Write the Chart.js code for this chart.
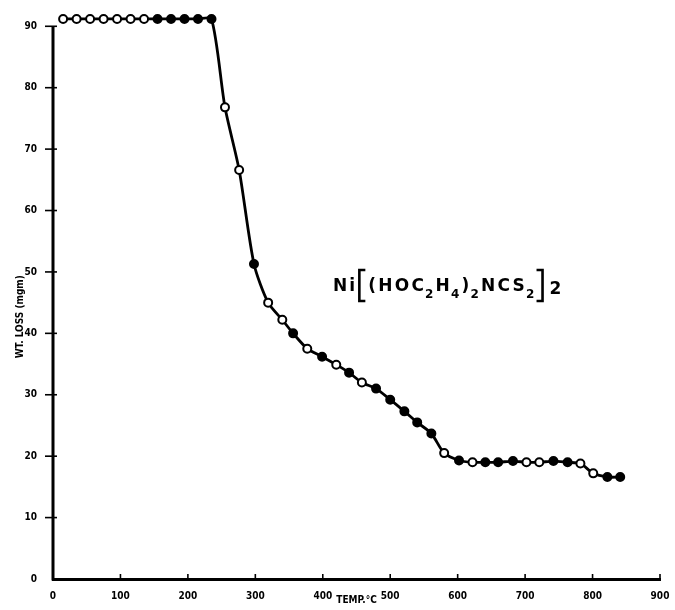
<!DOCTYPE html>
<html>
<head>
<meta charset="utf-8">
<script src="https://cdn.jsdelivr.net/npm/chart.js@4"></script>
<style>
  html, body { margin: 0; padding: 0; background: #fff; }
  #wrap { width: 675px; height: 610px; }
</style>
</head>
<body>
<div id="wrap"><canvas id="chart"></canvas></div>
<script>
// temperature (deg C) of each reading
const temps = [15, 35, 55, 75, 95, 115, 135, 155, 175, 195, 215, 235,
    255, 276, 298, 319, 340, 356, 377, 399, 420, 439, 458, 479, 500, 521, 540, 561,
    580, 602, 622, 641, 660, 682, 702, 721, 742, 763, 782, 801, 822, 841];
// weight (mgm)
const weights = [91.2, 91.2, 91.2, 91.2, 91.2, 91.2, 91.2, 91.2, 91.2, 91.2, 91.2, 91.2,
    76.8, 66.6, 51.3, 45.0, 42.2, 40.0, 37.5, 36.2, 34.9, 33.6, 32.0, 31.0, 29.2, 27.3, 25.5, 23.7,
    20.5, 19.3, 19.0, 19.0, 19.0, 19.2, 19.0, 19.0, 19.2, 19.0, 18.8, 17.2, 16.6, 16.6];
// which markers are printed solid
const solid = [0, 0, 0, 0, 0, 0, 0, 1, 1, 1, 1, 1,
    0, 0, 1, 0, 0, 1, 0, 1, 0, 1, 0, 1, 1, 1, 1, 1,
    0, 1, 0, 1, 1, 1, 0, 0, 1, 1, 0, 0, 1, 1];

const xTicks = [0, 100, 200, 300, 400, 500, 600, 700, 800, 900];
const yTicks = [0, 10, 20, 30, 40, 50, 60, 70, 80, 90];

const yTitle = 'WT. LOSS (mgm)';
const yTitleAt = 42.7;   // value the axis title is centred on
const formulaAt = { x: 415, y: 46.9 };

const labelFont = { family: 'DejaVu Sans Condensed', size: 10, weight: 'bold' };

// y axis line stops at the 90 tick, short tick marks, y title
const axisMarks = {
    id: 'axisMarks',
    afterDraw(chart) {
        const ctx = chart.ctx;
        const xs = chart.scales.x, ys = chart.scales.y;
        const x0 = xs.getPixelForValue(0), y0 = ys.getPixelForValue(0);
        const yTop = ys.getPixelForValue(yTicks[yTicks.length - 1]);
        ctx.save();
        ctx.strokeStyle = '#000';
        ctx.lineWidth = 3;
        ctx.beginPath();
        ctx.moveTo(x0, y0 + 1.5);
        ctx.lineTo(x0, yTop);
        ctx.stroke();
        ctx.lineWidth = 1.6;
        yTicks.forEach(v => {
            if (v === 0) return;
            const py = ys.getPixelForValue(v);
            ctx.beginPath();
            ctx.moveTo(x0 - 8, py);
            ctx.lineTo(x0 + 4, py);
            ctx.stroke();
        });
        xTicks.forEach(v => {
            if (v === 0) return;
            const px = xs.getPixelForValue(v);
            ctx.beginPath();
            ctx.moveTo(px, y0);
            ctx.lineTo(px, y0 - 5);
            ctx.stroke();
        });
        // rotated axis title
        ctx.translate(20, ys.getPixelForValue(yTitleAt));
        ctx.rotate(-Math.PI / 2);
        ctx.font = 'bold 10px "DejaVu Sans Condensed"';
        ctx.fillStyle = '#000';
        ctx.textAlign = 'center';
        ctx.textBaseline = 'middle';
        ctx.fillText(yTitle, 0, 0);
        ctx.restore();
    }
};

// compound label Ni[(HOC2H4)2NCS2]2 with subscripts and tall brackets
const formula = {
    id: 'formula',
    afterDraw(chart) {
        const ctx = chart.ctx;
        let x = chart.scales.x.getPixelForValue(formulaAt.x);
        const base = chart.scales.y.getPixelForValue(formulaAt.y);
        const big = 'bold 17px "DejaVu Sans"';
        const small = 'bold 12px "DejaVu Sans"';
        const parts = [
            ['Ni', 0], ['[', 0], ['(HOC', 0], ['2', 1], ['H', 0], ['4', 1], [')', 0], ['2', 1],
            ['NCS', 0], ['2', 1], [']', 0], ['2', 2]
        ];
        ctx.save();
        ctx.fillStyle = '#000';
        ctx.strokeStyle = '#000';
        ctx.textBaseline = 'alphabetic';
        ctx.letterSpacing = '2.2px';
        parts.forEach(([t, kind]) => {
            if (t === '[' || t === ']') {
                const bx = x + 2;
                ctx.lineWidth = 2.6;
                ctx.beginPath();
                if (t === '[') {
                    ctx.moveTo(bx + 6, base - 21);
                    ctx.lineTo(bx, base - 21);
                    ctx.lineTo(bx, base + 10);
                    ctx.lineTo(bx + 6, base + 10);
                } else {
                    ctx.moveTo(bx - 2, base - 21);
                    ctx.lineTo(bx + 4, base - 21);
                    ctx.lineTo(bx + 4, base + 10);
                    ctx.lineTo(bx - 2, base + 10);
                }
                ctx.stroke();
                x += 11;
                return;
            }
            if (kind === 1) {
                ctx.font = small;
                ctx.fillText(t, x - 1, base + 7);
                x += ctx.measureText(t).width - 1;
            } else if (kind === 2) {
                ctx.font = big;
                ctx.fillText(t, x + 2, base + 3);
                x += ctx.measureText(t).width;
            } else {
                ctx.font = big;
                ctx.fillText(t, x, base);
                x += ctx.measureText(t).width;
            }
        });
        ctx.restore();
    }
};

const ctx = document.getElementById('chart').getContext('2d');

new Chart(ctx, {
    type: 'line',
    data: {
        datasets: [{
            data: temps.map((t, i) => ({ x: t, y: weights[i] })),
            borderColor: '#000',
            borderWidth: 2.8,
            tension: 0.25,
            pointRadius: 4,
            pointBorderWidth: 2,
            pointBorderColor: '#000',
            pointBackgroundColor: solid.map(s => s ? '#000' : '#fff'),
            clip: false,
            fill: false
        }]
    },
    options: {
        responsive: true,
        maintainAspectRatio: false,
        animation: false,
        layout: { padding: { top: 13, right: 15, left: 0, bottom: 0 } },
        plugins: {
            legend: { display: false },
            tooltip: { enabled: false }
        },
        scales: {
            x: {
                type: 'linear',
                min: 0,
                max: 900,
                afterBuildTicks: s => { s.ticks = xTicks.map(v => ({ value: v })); },
                afterFit: s => { s.height = 31; },
                grid: { display: false },
                border: { display: true, color: '#000', width: 3 },
                ticks: { color: '#000', font: labelFont, padding: 3, maxRotation: 0 },
                title: {
                    display: true,
                    text: 'TEMP.°C',
                    color: '#000',
                    font: labelFont,
                    padding: { top: 4, bottom: 4 }
                }
            },
            y: {
                min: 0,
                max: 92,
                afterBuildTicks: s => { s.ticks = yTicks.map(v => ({ value: v })); },
                afterFit: s => { s.width = 53; },
                grid: { display: false },
                border: { display: false },
                ticks: { color: '#000', font: labelFont, padding: 8 }
            }
        }
    },
    plugins: [axisMarks, formula]
});
</script>
</body>
</html>
